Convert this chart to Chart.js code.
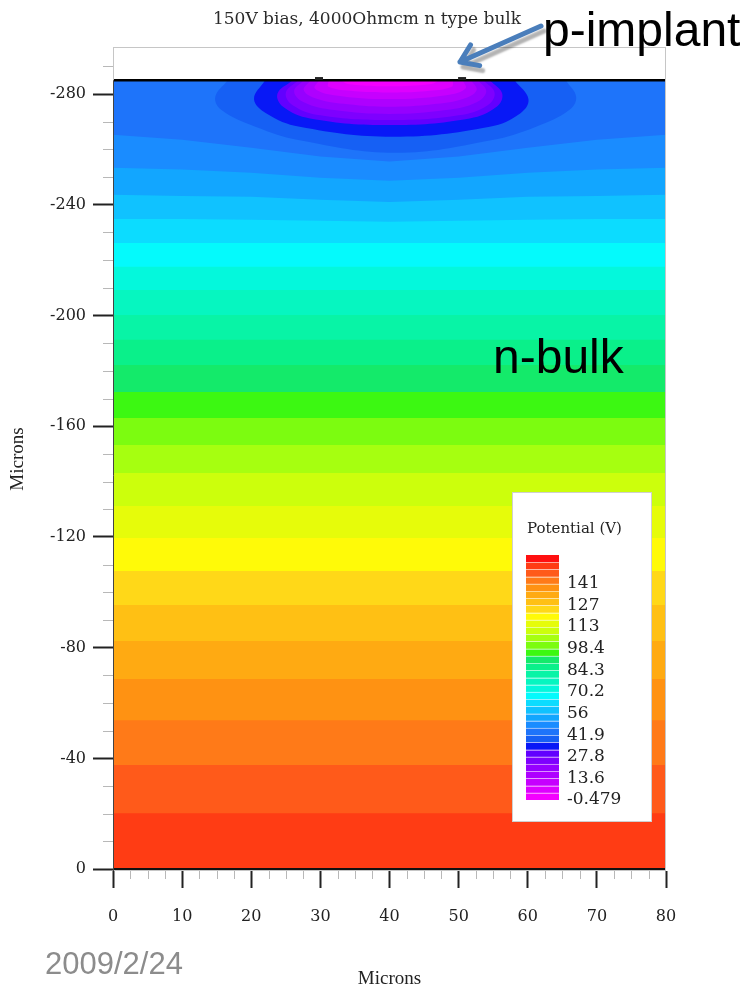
<!DOCTYPE html>
<html lang="en">
<head>
<meta charset="utf-8">
<title>150V bias, 4000Ohmcm n type bulk</title>
<script src="https://cdn.jsdelivr.net/npm/chart.js@4.4.1/dist/chart.umd.min.js"></script>
<style>
    html, body { margin: 0; padding: 0; background: #fff; }
    #plot { display: block; }
</style>
</head>
<body>
<canvas id="plot" width="744" height="990"></canvas>
<script>
(function () {
    'use strict';

    /* ------------------------------------------------------------------
       Data
    ------------------------------------------------------------------ */
    // contour colours, index 0 = lowest level (-0.479 V), 4.7 V per level
    var levelColors = [
        '#f400ff', '#de00ff', '#c600ff', '#ae00ff', '#9600ff', '#7e00ff', '#6200ff',
        '#0818f6', '#1660f4', '#1e74fa', '#1a8cff', '#12a6ff', '#10c2ff', '#0cdcff',
        '#04fafc', '#04f8dc', '#06f6c0', '#08f4a6', '#0af08a', '#14ea6a', '#3cf812',
        '#7cfc10', '#a6ff10', '#ccff0c', '#e6fc0a', '#fffa08', '#ffd818', '#ffc014',
        '#ffaa12', '#ff9212', '#ff7a18', '#ff5a1a', '#ff3c14', '#ff1010'
    ];

    // colour bar labels, one every three levels, bottom to top
    var legendLabels = ['-0.479', '13.6', '27.8', '41.9', '56', '70.2', '84.3', '98.4', '113', '127', '141'];
    var labelEvery = 3;

    // axes, microns
    var xTicks = [0, 10, 20, 30, 40, 50, 60, 70, 80];
    var yTicks = [-280, -240, -200, -160, -120, -80, -40, 0];
    var xMinorStep = 2.5;
    var yMinorStep = 10;
    var xRange = [0, 80];
    var yRange = [-297, 0.7];

    var surfaceY = -285;   // implant side
    var backY = 0;         // back contact

    // flat contour edges in the bulk, deepest first, with the level just above each
    var bulkEdges  = [-20.2, -37.6, -53.8, -68.7, -82.4, -95.4, -107.7, -119.6, -131.2, -143.1,
                      -153.2, -163.0, -172.4, -182.1, -191.2, -200.2, -209.2, -217.6, -226.2];
    var bulkLevels = [31, 30, 29, 28, 27, 26, 25, 24, 23, 22, 21, 20, 19, 18, 17, 16, 15, 14, 13];
    var backLevel = 32;

    // edges that bend down under the implant, sampled at edgeX
    var edgeX  = [0, 10, 20, 30, 40, 50, 60, 70, 80];
    var edge12 = [-234.9, -234.9, -234.6, -234.2, -233.9, -234.2, -234.6, -234.9, -234.9];
    var edge11 = [-243.6, -243.2, -242.9, -241.8, -241.0, -241.8, -242.9, -243.2, -243.6];
    var edge10 = [-253.4, -252.7, -251.6, -249.8, -248.7, -249.8, -251.6, -252.7, -253.4];
    var edge9  = [-265.3, -263.5, -260.6, -257.4, -255.6, -257.4, -260.6, -263.5, -265.3];
    var bentEdges  = [edge12, edge11, edge10, edge9];
    var bentLevels = [12, 11, 10, 9];

    // closed contours round the p-implant, outermost first, [x, y]
    var halo8 = [[16.6, -285], [14.8, -279], [15.7, -274.2], [20.6, -268.2], [27, -263.3], [40.9, -258.8],
                 [54.7, -263.3], [61.2, -268.2], [66, -274.2], [67, -279], [65.5, -285]];
    var ring7 = [[22, -285], [20.4, -278.2], [22.2, -273], [27, -268.2], [40.5, -264.6],
                 [54.5, -268.2], [58.9, -273], [60.1, -278.2], [58.1, -285]];
    var core6 = [[26, -285], [23.8, -280.2], [24.6, -275.4], [28.5, -271.2], [40, -268.8],
                 [51.6, -271.2], [55.5, -275.4], [56.3, -280.2], [54.5, -285]];
    var core5 = [[26.8, -285], [25, -280.5], [26, -276], [30, -272.3], [40, -270.6],
                 [50, -272.3], [54.2, -276], [55.2, -280.5], [53.6, -285]];
    var core4 = [[27.6, -285], [26.2, -281], [27.6, -277], [32, -274.2], [40, -272.8],
                 [48.2, -274.2], [52.6, -277], [54, -281], [52.8, -285]];
    var core3 = [[28.6, -285], [27.6, -281.4], [29.6, -278.2], [34, -276.3], [40, -275.4],
                 [46.2, -276.3], [50.6, -278.2], [52.6, -281.4], [51.8, -285]];
    var core2 = [[29.8, -285], [29.2, -282], [32, -279.6], [40, -278.2], [48.2, -279.6], [51, -282], [50.6, -285]];
    var core1 = [[31.2, -285], [31.2, -282.6], [35, -281], [40, -280.6], [45.2, -281], [49, -282.6], [49.2, -285]];
    var core0 = [[33, -285], [34, -283.6], [40, -282.8], [46, -283.6], [47.2, -285]];
    var implantContours = [halo8, ring7, core6, core5, core4, core3, core2, core1, core0];
    var implantLevels   = [8, 7, 6, 5, 4, 3, 2, 1, 0];

    // electrode edges sitting on the surface
    var electrodeX = [29.8, 50.5];

    /* ------------------------------------------------------------------
       Datasets: filled shapes painted deepest first
    ------------------------------------------------------------------ */
    function toPoints(pairs) {
        return pairs.map(function (p) { return { x: p[0], y: p[1] }; });
    }

    function region(pairs, level, tension) {
        return {
            data: toPoints(pairs),
            backgroundColor: levelColors[level],
            borderColor: 'rgba(0,0,0,0)',
            borderWidth: 0,
            pointRadius: 0,
            fill: 'shape',
            tension: tension
        };
    }

    var layers = [];
    layers.push(region([[xRange[0], surfaceY], [xRange[0], yRange[1]], [xRange[1], yRange[1]], [xRange[1], surfaceY]], backLevel, 0));

    bulkEdges.forEach(function (e, i) {
        layers.push(region([[xRange[0], surfaceY], [xRange[0], e], [xRange[1], e], [xRange[1], surfaceY]], bulkLevels[i], 0));
    });

    bentEdges.forEach(function (edge, i) {
        var pairs = [[edgeX[0], surfaceY]];
        edge.forEach(function (y, j) { pairs.push([edgeX[j], y]); });
        pairs.push([edgeX[edgeX.length - 1], surfaceY]);
        layers.push(region(pairs, bentLevels[i], 0));
    });

    implantContours.forEach(function (c, i) {
        layers.push(region(c, implantLevels[i], 0.4));
    });

    // chart.js paints the highest order first
    layers.forEach(function (ds, i) { ds.order = layers.length - i + 1; });

    layers.push({
        data: toPoints([[xRange[0], surfaceY], [xRange[1], surfaceY]]),
        borderColor: '#000', borderWidth: 2.5, pointRadius: 0, fill: false, order: 1
    });
    layers.push({
        data: toPoints([[xRange[0], backY], [xRange[1], backY]]),
        borderColor: '#111', borderWidth: 2, pointRadius: 0, fill: false, order: 1
    });
    layers.push({
        data: electrodeX.map(function (x) { return { x: x, y: surfaceY - 0.6 }; }),
        showLine: false, pointStyle: 'line', pointRadius: 4, pointBorderWidth: 3,
        pointBorderColor: '#222', fill: false, order: 0
    });

    /* ------------------------------------------------------------------
       Plugins
    ------------------------------------------------------------------ */
    var frame = {
        id: 'frame',
        afterDraw: function (chart) {
            var ctx = chart.ctx, a = chart.chartArea, ys = chart.scales.y;
            ctx.save();
            ctx.strokeStyle = '#c6c6c6';
            ctx.lineWidth = 1;
            ctx.strokeRect(a.left + 0.5, a.top + 0.5, a.right - a.left - 1, a.bottom - a.top - 1);
            ctx.strokeStyle = '#444';
            ctx.beginPath();
            ctx.moveTo(a.left + 0.5, ys.getPixelForValue(surfaceY));
            ctx.lineTo(a.left + 0.5, a.bottom);
            ctx.stroke();
            ctx.restore();
        }
    };

    var minorTicks = {
        id: 'minorTicks',
        afterDraw: function (chart) {
            var ctx = chart.ctx, a = chart.chartArea, xs = chart.scales.x, ys = chart.scales.y;
            var v, p;
            ctx.save();
            ctx.strokeStyle = '#b8b8b8';
            ctx.lineWidth = 1;
            ctx.beginPath();
            for (v = xRange[0]; v <= xRange[1]; v += xMinorStep) {
                if (xTicks.indexOf(v) >= 0) continue;
                p = Math.round(xs.getPixelForValue(v)) + 0.5;
                ctx.moveTo(p, a.bottom);
                ctx.lineTo(p, a.bottom + 8);
            }
            for (v = -290; v < backY; v += yMinorStep) {
                if (yTicks.indexOf(v) >= 0) continue;
                p = Math.round(ys.getPixelForValue(v)) + 0.5;
                ctx.moveTo(a.left - 10, p);
                ctx.lineTo(a.left, p);
            }
            ctx.stroke();
            ctx.restore();
        }
    };

    var colorBar = {
        id: 'colorBar',
        afterDatasetsDraw: function (chart) {
            var ctx = chart.ctx;
            var n = levelColors.length;
            var barTop = 555, barBottom = 800, barLeft = 526, barWidth = 33;
            var h = (barBottom - barTop) / n;
            var i, y;

            ctx.save();
            ctx.fillStyle = '#fff';
            ctx.fillRect(512.5, 492.5, 139, 329);
            ctx.strokeStyle = '#cfcfcf';
            ctx.lineWidth = 1;
            ctx.strokeRect(512.5, 492.5, 139, 329);

            ctx.fillStyle = '#222';
            ctx.font = '15px "DejaVu Serif"';
            ctx.textBaseline = 'middle';
            ctx.textAlign = 'left';
            ctx.fillText('Potential (V)', 527, 529);

            for (i = 0; i < n; i++) {
                ctx.fillStyle = levelColors[i];
                ctx.fillRect(barLeft, barBottom - (i + 1) * h, barWidth, h);
            }
            ctx.strokeStyle = 'rgba(255,255,255,0.5)';
            ctx.beginPath();
            for (i = 1; i < n; i++) {
                y = Math.round(barBottom - i * h) + 0.5;
                ctx.moveTo(barLeft, y);
                ctx.lineTo(barLeft + barWidth, y);
            }
            ctx.stroke();

            ctx.fillStyle = '#222';
            ctx.font = '17px "DejaVu Serif"';
            legendLabels.forEach(function (t, k) {
                ctx.fillText(t, 567, barBottom - k * labelEvery * h);
            });
            ctx.restore();
        }
    };

    var notes = {
        id: 'notes',
        afterDraw: function (chart) {
            var ctx = chart.ctx;
            ctx.save();
            ctx.fillStyle = '#2a2a2a';
            ctx.font = '17px "DejaVu Serif"';
            ctx.textAlign = 'center';
            ctx.textBaseline = 'middle';
            ctx.fillText('150V bias, 4000Ohmcm n type bulk', 367, 20);

            ctx.textAlign = 'left';
            ctx.textBaseline = 'alphabetic';
            ctx.fillStyle = '#000';
            ctx.font = '48px "Liberation Sans"';
            ctx.fillText('n-bulk', 493, 373);
            ctx.fillText('p-implant', 543, 46);

            ctx.fillStyle = '#8c8c8c';
            ctx.font = '31px "Liberation Sans"';
            ctx.fillText('2009/2/24', 45, 974);

            // arrow from the label down to the implant
            var tail = { x: 541, y: 26 }, tip = { x: 460, y: 62 };
            var ang = Math.atan2(tail.y - tip.y, tail.x - tip.x);
            var wing = 20, spread = 0.6;
            ctx.shadowColor = 'rgba(0,0,0,0.3)';
            ctx.shadowOffsetX = 3;
            ctx.shadowOffsetY = 5;
            ctx.shadowBlur = 2;
            ctx.strokeStyle = '#4a7ebb';
            ctx.lineWidth = 5;
            ctx.lineCap = 'round';
            ctx.lineJoin = 'round';
            ctx.beginPath();
            ctx.moveTo(tail.x, tail.y);
            ctx.lineTo(tip.x, tip.y);
            ctx.moveTo(tip.x + wing * Math.cos(ang + spread), tip.y + wing * Math.sin(ang + spread));
            ctx.lineTo(tip.x, tip.y);
            ctx.lineTo(tip.x + wing * Math.cos(ang - spread), tip.y + wing * Math.sin(ang - spread));
            ctx.stroke();
            ctx.restore();
        }
    };

    /* ------------------------------------------------------------------
       Chart
    ------------------------------------------------------------------ */
    Chart.defaults.font.family = '"DejaVu Serif", serif';
    Chart.defaults.color = '#222';

    new Chart(document.getElementById('plot').getContext('2d'), {
        type: 'line',
        data: { datasets: layers },
        options: {
            responsive: false,
            animation: false,
            events: [],
            layout: { padding: { top: 47, right: 78, left: 0, bottom: 0 } },
            plugins: {
                legend: { display: false },
                tooltip: { enabled: false },
                title: { display: false }
            },
            scales: {
                x: {
                    type: 'linear',
                    min: xRange[0],
                    max: xRange[1],
                    afterBuildTicks: function (s) { s.ticks = xTicks.map(function (v) { return { value: v }; }); },
                    afterFit: function (s) { s.height = 119; },
                    border: { display: false },
                    grid: { drawOnChartArea: false, tickLength: 17, tickWidth: 2, tickColor: '#222' },
                    ticks: { padding: 19, font: { size: 16 }, color: '#222', maxRotation: 0 },
                    title: {
                        display: true, text: 'Microns', color: '#222',
                        font: { family: '"Liberation Serif"', size: 19 },
                        padding: { top: 0, bottom: 0 }
                    }
                },
                y: {
                    type: 'linear',
                    reverse: true,
                    min: yRange[0],
                    max: yRange[1],
                    afterBuildTicks: function (s) { s.ticks = yTicks.map(function (v) { return { value: v }; }); },
                    afterFit: function (s) { s.width = 113; },
                    border: { display: false },
                    grid: { drawOnChartArea: false, tickLength: 20, tickWidth: 2, tickColor: '#222' },
                    ticks: { padding: 7, font: { size: 16 }, color: '#222' },
                    title: {
                        display: true, text: 'Microns', color: '#222',
                        font: { family: '"Liberation Serif"', size: 19 },
                        padding: { top: 7, bottom: 0 }
                    }
                }
            }
        },
        plugins: [frame, minorTicks, colorBar, notes]
    });
})();
</script>
</body>
</html>
